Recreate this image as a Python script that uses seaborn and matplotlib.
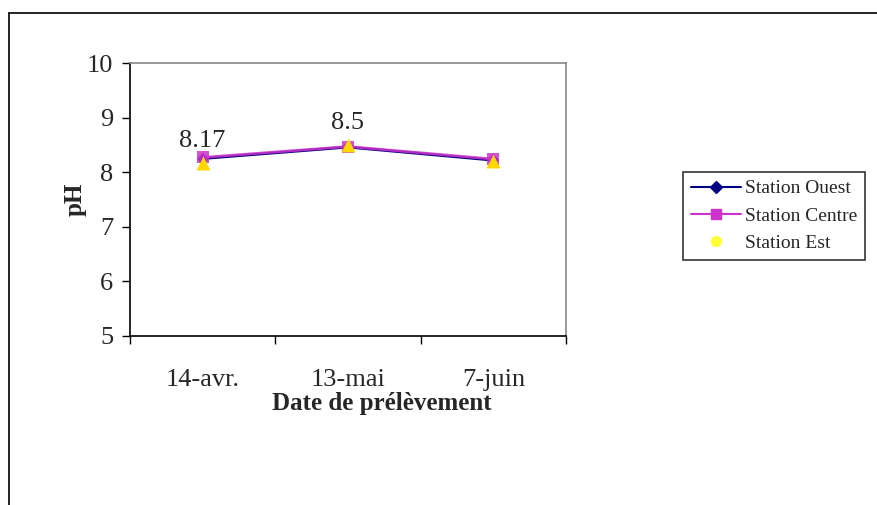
import matplotlib
matplotlib.use("Agg")
import matplotlib.pyplot as plt
import seaborn as sns
import pandas as pd
import numpy as np
from matplotlib.lines import Line2D

dates = ["14-avr.", "13-mai", "7-juin"]
ouest = [8.25, 8.46, 8.22]
centre = [8.27, 8.47, 8.24]
est = [8.17, 8.50, 8.20]
labels_pts = {0: "8.17", 1: "8.5"}

sns.set_theme(style="white")
plt.rcParams['font.family'] = ['Liberation Serif', 'DejaVu Serif']

fig = plt.figure(figsize=(8.78, 5.05), dpi=100)
ax = fig.add_axes([130/878, 1-336/505, (566-130)/878, (336-63)/505])

x = np.arange(len(dates))
df_o = pd.DataFrame({"x": x, "pH": ouest})
df_c = pd.DataFrame({"x": x, "pH": centre})
df_e = pd.DataFrame({"x": x, "pH": est})

sns.lineplot(data=df_o, x="x", y="pH", ax=ax, color="#000080", marker="D",
             markersize=6, linewidth=2, markeredgewidth=0)
sns.lineplot(data=df_c, x="x", y="pH", ax=ax, color="#cc33cc", marker="s",
             markersize=9, linewidth=2, alpha=0.85, markeredgewidth=0)
sns.scatterplot(data=df_e, x="x", y="pH", ax=ax, color="#ffd700", marker="^",
                s=100, linewidth=0, zorder=5)

for i, t in labels_pts.items():
    ax.text(x[i], est[i] + 0.2, t, ha="center", va="bottom", fontsize=19)

ax.set_xlim(-0.5, 2.5)
ax.set_ylim(5, 10)
ax.set_yticks([5, 6, 7, 8, 9, 10])
ax.set_xticks([-0.5, 0.5, 1.5, 2.5])
ax.set_xticklabels([])
ax.set_xticks(x, minor=True)
ax.set_xticklabels(dates, minor=True)
ax.tick_params(axis="x", which="major", direction="out", length=6, width=1, color="black", bottom=True)
ax.tick_params(axis="x", which="minor", length=0, labelsize=19, pad=24)
ax.tick_params(axis="y", direction="out", length=6, width=1, color="black", left=True, labelsize=19, pad=6)

ax.set_xlabel("Date de prélèvement", fontsize=18, fontweight="bold")
ax.set_ylabel("pH", fontsize=18, fontweight="bold")
ax.xaxis.set_label_coords(0.578, -0.205)
ax.yaxis.set_label_coords(-0.10, 0.5)

for s in ["left", "bottom"]:
    ax.spines[s].set_color("black")
    ax.spines[s].set_linewidth(1.2)
for s in ["top", "right"]:
    ax.spines[s].set_color("#888888")
    ax.spines[s].set_linewidth(1.2)

handles = [
    Line2D([], [], color="#000080", marker="D", markersize=6, linewidth=1.5),
    Line2D([], [], color="#cc33cc", marker="s", markersize=7, linewidth=1.5),
    Line2D([], [], color="#ffff33", marker="o", markersize=7, linewidth=0),
]
leg = fig.legend(handles, ["Station Ouest", "Station Centre", "Station Est"],
                 loc="upper left", bbox_to_anchor=(683/878, 1-172/505), borderaxespad=0,
                 fontsize=14, frameon=True, fancybox=False, edgecolor="black",
                 handlelength=2.6, handletextpad=0.2, borderpad=0.4, labelspacing=0.5)
leg.get_frame().set_linewidth(1.2)

# outer chart border (top and left)
fig.add_artist(Line2D([9/878, 9/878], [0, 1-13/505], color="black", linewidth=1.2, transform=fig.transFigure))
fig.add_artist(Line2D([9/878, 1], [1-13/505, 1-13/505], color="black", linewidth=1.2, transform=fig.transFigure))

fig.savefig("out.png", dpi=100)
